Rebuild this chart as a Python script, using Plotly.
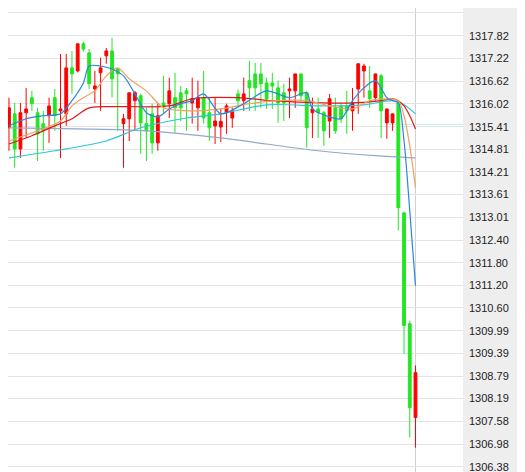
import plotly.graph_objects as go

opens  = [1315.38,1315.75,1314.82,1315.78,1316.18,1315.78,1315.49,1315.70,1316.18,1315.83,
          1315.75,1316.97,1316.89,1317.61,1317.37,1316.41,1316.84,1317.29,1317.42,1316.94,
          1315.49,1315.62,1316.10,1316.23,1315.49,1315.75,1314.98,1316.04,1316.02,1316.18,
          1316.31,1316.36,1316.04,1315.91,1316.18,1315.78,1315.43,1315.40,1315.78,1315.64,
          1316.28,1316.10,1316.63,1316.81,1316.81,1316.57,1316.57,1316.44,1316.31,1316.36,
          1316.36,1316.81,1316.31,1315.78,1315.88,1315.78,1315.56,1315.91,1315.96,1315.96,
          1315.83,1316.41,1316.89,1316.36,1316.18,1316.76,1315.51,1315.51,1316.04,1313.12,
          1310.18,1307.69]
highs  = [1316.18,1316.04,1316.04,1316.44,1316.36,1315.91,1315.83,1316.18,1316.41,1317.34,
          1317.34,1317.42,1317.61,1317.66,1317.47,1316.89,1317.24,1317.50,1317.77,1316.97,
          1315.75,1316.31,1316.36,1316.28,1315.91,1316.02,1316.02,1316.76,1316.71,1316.84,
          1316.49,1316.44,1316.71,1316.63,1316.89,1316.18,1316.18,1315.90,1316.02,1315.91,
          1316.40,1316.71,1317.16,1317.10,1317.10,1316.71,1316.84,1316.63,1316.55,1316.71,
          1316.81,1316.81,1316.36,1316.18,1316.18,1315.83,1316.28,1316.18,1316.04,1316.36,
          1316.44,1317.08,1317.08,1317.02,1316.81,1316.81,1315.88,1315.75,1316.10,1313.15,
          1310.26,1309.07]
lows   = [1314.77,1314.32,1314.58,1315.11,1315.83,1314.50,1314.77,1314.98,1315.30,1314.58,
          1315.43,1316.28,1316.85,1317.40,1316.41,1316.04,1315.83,1317.08,1316.18,1315.30,
          1314.32,1315.03,1315.30,1314.69,1314.50,1314.69,1314.77,1315.75,1315.64,1315.25,
          1315.56,1315.30,1315.49,1315.30,1315.49,1315.03,1314.95,1315.00,1315.22,1315.38,
          1315.95,1315.83,1315.83,1315.83,1315.91,1315.88,1315.88,1315.51,1315.56,1315.64,
          1315.91,1316.10,1314.85,1315.11,1315.11,1314.90,1315.11,1315.22,1315.51,1315.22,
          1315.30,1315.75,1316.18,1315.91,1316.10,1315.11,1315.09,1315.30,1312.65,1309.38,
          1307.16,1306.89]
closes = [1315.91,1314.82,1315.78,1315.88,1316.02,1315.22,1315.30,1315.96,1315.70,1315.88,
          1316.97,1316.81,1317.61,1317.47,1316.55,1316.49,1316.97,1317.42,1316.68,1316.81,
          1315.62,1316.31,1316.31,1315.51,1315.30,1314.98,1315.70,1315.96,1316.36,1315.91,
          1315.91,1316.28,1316.15,1316.18,1315.64,1315.38,1315.56,1315.55,1315.96,1315.83,
          1316.10,1316.28,1316.44,1316.44,1316.55,1316.15,1316.49,1316.04,1316.04,1316.41,
          1316.81,1316.23,1315.38,1315.88,1315.78,1315.30,1316.15,1315.30,1315.62,1315.83,
          1316.04,1317.08,1317.02,1316.15,1316.81,1315.83,1315.88,1315.75,1313.26,1310.13,
          1307.95,1308.88]

ma_blue_x = [0,3,6,9,11,13,14,16,18,20,22,24,26,28,30,32,34,37,41,45,49,52,53,56,58,60,62,64,66,67,68,69,70,71]
ma_blue_y = [1315.43,1315.62,1315.70,1315.75,1316.10,1316.57,1317.02,1317.02,1316.94,1316.76,1316.28,1315.78,
             1315.67,1315.88,1316.02,1316.10,1316.28,1315.75,1316.02,1316.36,1316.18,1316.31,1315.88,1315.67,
             1315.62,1316.10,1316.44,1316.63,1316.18,1316.10,1316.04,1315.03,1313.18,1311.19]
ma_orange_x = [0,5,9,11,13,15,17,19,21,24,27,32,37,42,47,52,56,60,63,66,68,69,70,71]
ma_orange_y = [1315.03,1315.30,1315.56,1315.96,1316.18,1316.36,1316.76,1316.97,1316.68,1316.36,1315.91,1315.83,
               1315.88,1316.02,1316.10,1316.10,1315.96,1315.88,1316.10,1316.15,1316.10,1315.70,1314.90,1313.79]
ma_red_x = [0,4,8,11,14,20,28,32,40,46,55,60,65,67,68,69,70,71]
ma_red_y = [1314.95,1315.17,1315.43,1315.62,1315.91,1315.94,1315.96,1316.15,1316.18,1316.10,1316.04,1316.04,
            1316.10,1316.15,1316.10,1315.96,1315.70,1315.35]
ma_cyan_x = [0,8,17,23,31,37,45,55,62,67,69,71]
ma_cyan_y = [1314.58,1314.77,1315.03,1315.38,1315.64,1315.75,1315.99,1315.96,1315.99,1316.10,1315.99,1315.75]
ma_gray_x = [0,12,24,37,54,64,71]
ma_gray_y = [1315.38,1315.35,1315.30,1315.11,1314.77,1314.64,1314.58]

tick_labels = ["1318.43","1317.82","1317.22","1316.62","1316.02","1315.41","1314.81","1314.21","1313.61",
               "1313.01","1312.40","1311.80","1311.20","1310.60","1309.99","1309.39","1308.79","1308.19",
               "1307.58","1306.98","1306.38"]
tick_vals = [float(t) for t in tick_labels]

fig = go.Figure()
fig.add_trace(go.Candlestick(
    x=list(range(len(opens))), open=opens, high=highs, low=lows, close=closes,
    increasing=dict(line=dict(color="#ff0000", width=1), fillcolor="#ff0000"),
    decreasing=dict(line=dict(color="#22e622", width=1), fillcolor="#22e622"),
    whiskerwidth=0, showlegend=False, hoverinfo="skip"))
for xs, ys, col in [(ma_gray_x, ma_gray_y, "#8fa9c9"), (ma_cyan_x, ma_cyan_y, "#2cc6d6"),
                    (ma_red_x, ma_red_y, "#e01818"), (ma_orange_x, ma_orange_y, "#f0a060"),
                    (ma_blue_x, ma_blue_y, "#2a86e0")]:
    fig.add_trace(go.Scatter(x=xs, y=ys, mode="lines", line=dict(color=col, width=1.2, shape="spline", smoothing=0.8),
                             showlegend=False, hoverinfo="skip"))

fig.add_shape(type="rect", xref="paper", yref="paper", x0=1, x1=1.2, y0=0, y1=1,
              fillcolor="#eeeeee", line=dict(width=0), layer="below")
fig.add_shape(type="line", xref="x", yref="paper", x0=71, x1=71, y0=0, y1=1,
              line=dict(color="#d0d0d0", width=1), layer="below")
fig.add_shape(type="line", xref="x", yref="y", x0=66, x1=86, y0=1315.47, y1=1315.47,
              line=dict(color="#bfeef3", width=1), layer="below")

fig.update_layout(
    width=525, height=472, margin=dict(l=0, r=70, t=0, b=0),
    paper_bgcolor="white", plot_bgcolor="white",
    xaxis=dict(range=[-0.17, 79.3], showgrid=False, showticklabels=False, zeroline=False,
               rangeslider=dict(visible=False), fixedrange=True),
    yaxis=dict(side="right", range=[1306.03, 1318.56], tickvals=tick_vals, ticktext=tick_labels,
               showgrid=True, gridcolor="#e4e4e4", gridwidth=1, zeroline=False, ticks="",
               tickfont=dict(family="Liberation Sans, Arial", size=11, color="#222"), ticklabelstandoff=5),
)
fig.write_html("out.html")
